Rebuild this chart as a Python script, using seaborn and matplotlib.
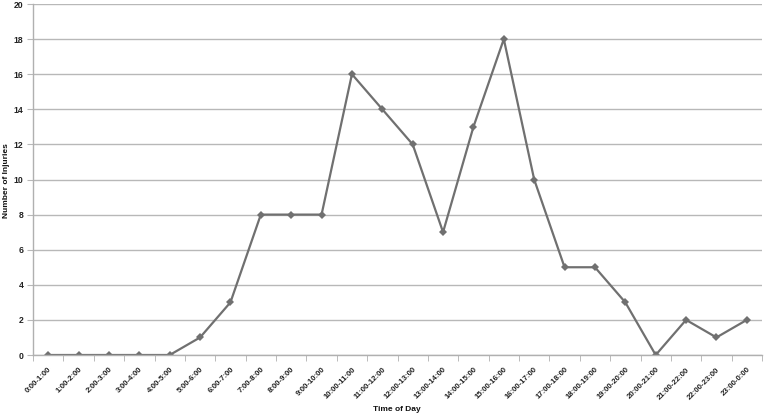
import matplotlib
matplotlib.use("Agg")
import matplotlib.pyplot as plt
import seaborn as sns
import pandas as pd
import numpy as np

categories = ["0:00-1:00", "1:00-2:00", "2:00-3:00", "3:00-4:00", "4:00-5:00", "5:00-6:00",
              "6:00-7:00", "7:00-8:00", "8:00-9:00", "9:00-10:00", "10:00-11:00", "11:00-12:00",
              "12:00-13:00", "13:00-14:00", "14:00-15:00", "15:00-16:00", "16:00-17:00",
              "17:00-18:00", "18:00-19:00", "19:00-20:00", "20:00-21:00", "21:00-22:00",
              "22:00-23:00", "23:00-0:00"]
injuries = [0, 0, 0, 0, 0, 1, 3, 8, 8, 8, 16, 14, 12, 7, 13, 18, 10, 5, 5, 3, 0, 2, 1, 2]
y_ticks = [0, 2, 4, 6, 8, 10, 12, 14, 16, 18, 20]

df = pd.DataFrame({"Time of Day": categories, "Number of Injuries": injuries})

sns.set_style("white")
plt.rcParams['font.family'] = ['Liberation Sans', 'DejaVu Sans']

fig = plt.figure(figsize=(7.66, 4.19), dpi=100)
ax = fig.add_axes([33/766, 1-355/419, (762-33)/766, (355-4)/419])

ax.yaxis.grid(True, color="#b8b8b8", linewidth=1.0)
ax.set_axisbelow(True)

sns.lineplot(data=df, x="Time of Day", y="Number of Injuries", ax=ax, color="#707070",
             linewidth=1.6, marker="D", markersize=4.5, markeredgewidth=0, sort=False)

n = len(categories)
ax.set_xlim(-0.5, n - 0.5)
ax.set_ylim(0, 20)
ax.set_yticks(y_ticks)
ax.set_yticklabels([str(v) for v in y_ticks], fontsize=6.2, fontweight="bold", color="#222222")
ax.set_xticks(range(n))
ax.set_xticklabels(categories, rotation=45, ha="right", va="top", fontsize=5.6,
                   fontweight="bold", rotation_mode="anchor", color="#222222")
ax.tick_params(axis="x", which="major", bottom=False, length=0, pad=8)
ax.tick_params(axis="y", left=True, length=4, color="#b8b8b8", pad=3)
ax.set_xticks(np.arange(-0.5, n, 1.0), minor=True)
ax.tick_params(axis="x", which="minor", bottom=True, length=4, color="#b0b0b0")

for s in ["top", "right"]:
    ax.spines[s].set_visible(False)
for s in ["left", "bottom"]:
    ax.spines[s].set_color("#b0b0b0")
    ax.spines[s].set_linewidth(1.0)

ax.set_xlabel("Time of Day", fontsize=6, fontweight="bold", color="#111111")
ax.set_ylabel("Number of Injuries", fontsize=6, fontweight="bold", color="#111111")
ax.xaxis.set_label_coords((397 - 33) / 729, (355 - 406) / 351)
ax.yaxis.set_label_coords((10 - 33) / 729, (355 - 181) / 351)

fig.savefig("out.png", dpi=100)
